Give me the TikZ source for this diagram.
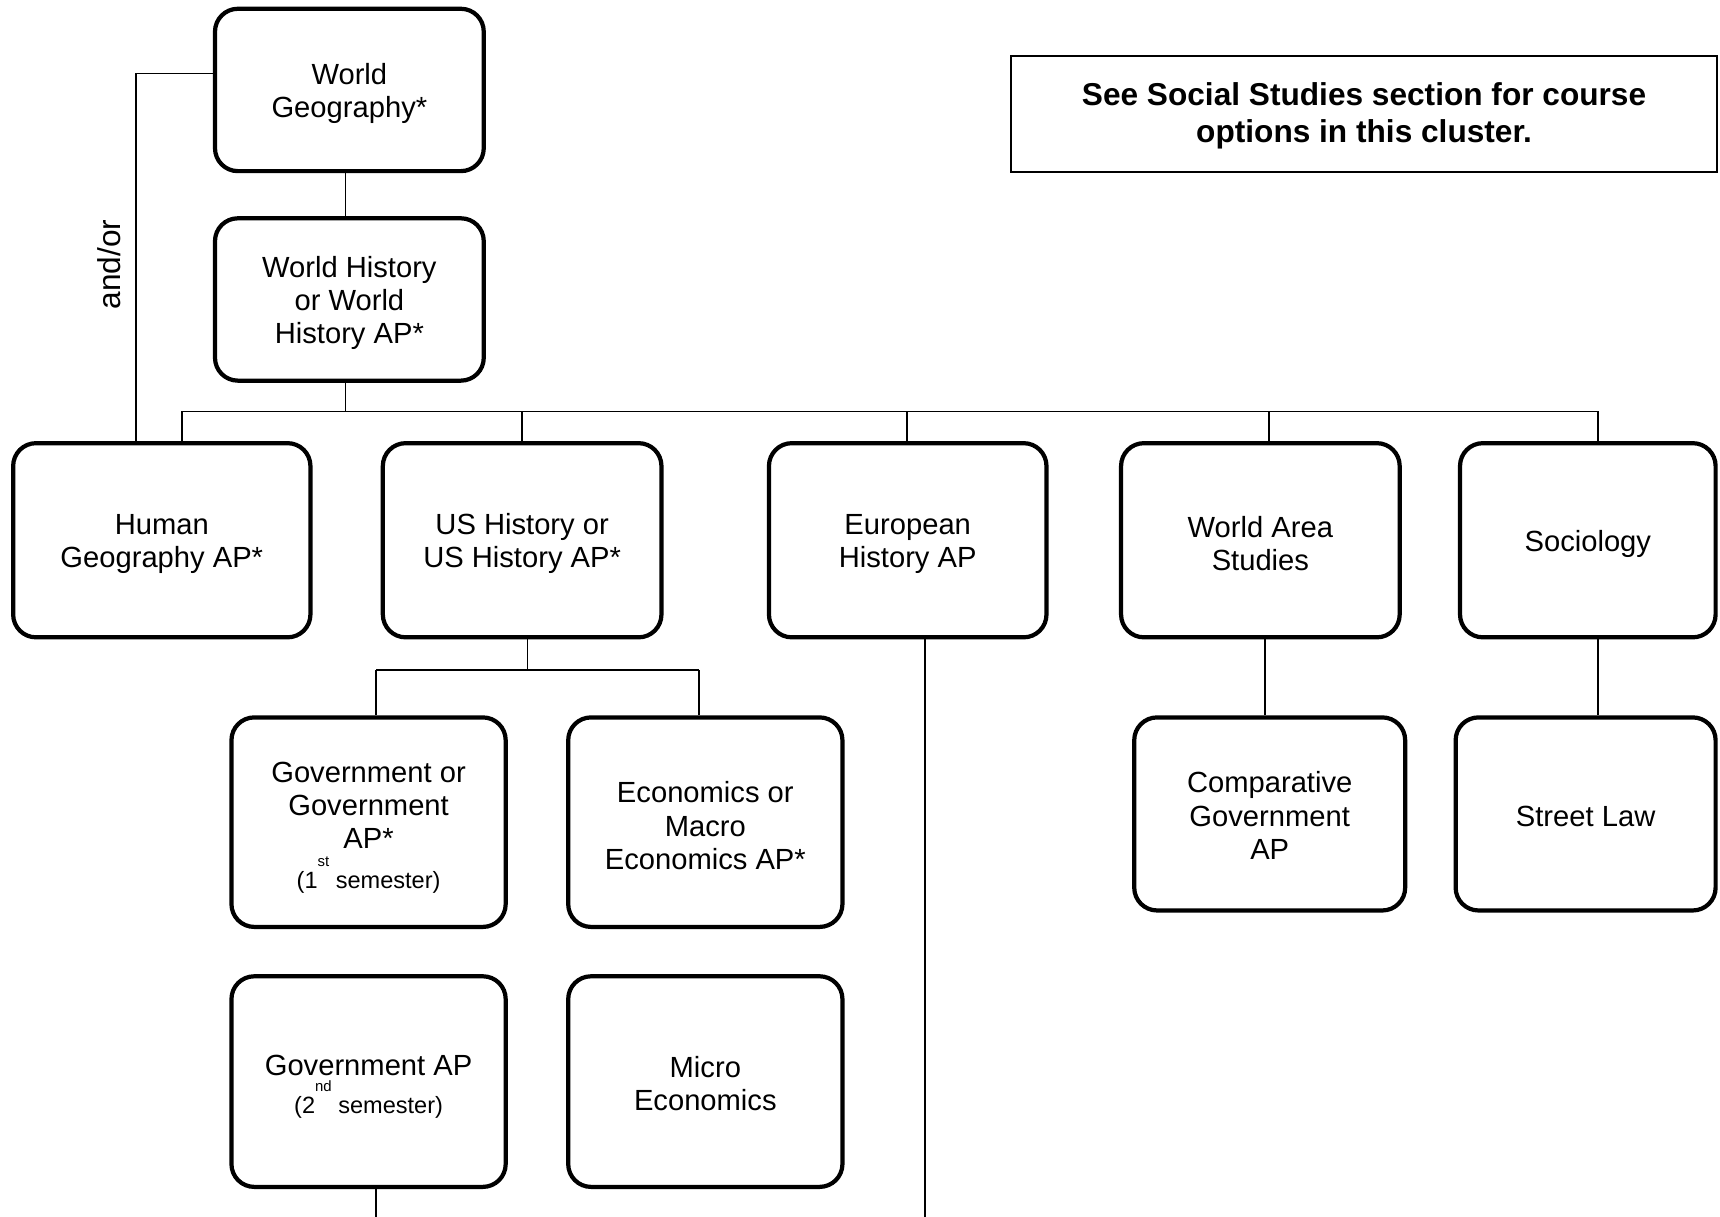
\documentclass[tikz,border=0pt]{standalone}
\usepackage{fontspec}
\setmainfont{Liberation Sans}
\newcommand{\ordsup}[1]{\raisebox{0.95em}{\fontsize{8.5}{8.5}\selectfont #1}}
\newcommand{\tstrut}[1]{\rule{0pt}{#1}}
\def\U{0.02194cm}
\begin{document}
\begin{tikzpicture}[x=0.02194cm, y=-0.02194cm,
  coursebox/.style={draw, line width=2.4pt, rounded corners=13pt, align=center,
    font=\fontsize{16.6}{19}\selectfont, inner sep=0pt},
  notebox/.style={draw, line width=1.2pt, align=center,
    font=\fontsize{18}{21}\selectfont\bfseries, inner sep=0pt},
  conn/.style={line width=0.9pt}]
\useasboundingbox (0,0) rectangle (1568,1109);

% boxes
\node[coursebox, minimum width=245*\U, minimum height=148*\U] (WG) at (318.5,82) {\tstrut{16pt}World\\Geography*};
\node[coursebox, minimum width=245*\U, minimum height=148*\U] (WH) at (318.5,273) {\tstrut{16pt}World History\\or World\\History AP*};

\node[coursebox, minimum width=271*\U, minimum height=177*\U] (HG) at (147.5,492.5) {\tstrut{16pt}Human\\Geography AP*};
\node[coursebox, minimum width=254*\U, minimum height=177*\U] (US) at (476,492.5) {\tstrut{16pt}US History or\\US History AP*};
\node[coursebox, minimum width=253*\U, minimum height=177*\U] (EH) at (827.5,492.5) {\tstrut{16pt}European\\History AP};
\node[coursebox, minimum width=254*\U, minimum height=177*\U] (WA) at (1149,492.5) {\tstrut{16pt}World Area\\Studies};
\node[coursebox, minimum width=233*\U, minimum height=177*\U] (SO) at (1447.5,492.5) {\tstrut{16pt}Sociology};

\node[coursebox, minimum width=250*\U, minimum height=191*\U] (GOV) at (336,749.5)
  {\tstrut{17.8pt}Government or\\Government\\AP*\\[3.5pt]{\fontsize{13.4}{16}\selectfont (1\ordsup{st} semester)}};
\node[coursebox, minimum width=250*\U, minimum height=191*\U] (ECO) at (643,749.5)
  {\tstrut{16pt}Economics or\\Macro\\Economics AP*};
\node[coursebox, minimum width=247*\U, minimum height=176*\U] (CG) at (1157.5,742)
  {\tstrut{14pt}Comparative\\Government\\AP};
\node[coursebox, minimum width=237*\U, minimum height=176*\U] (SL) at (1445.5,742) {\tstrut{14pt}Street Law};

\node[coursebox, minimum width=250*\U, minimum height=192*\U] (GAP) at (336,986)
  {\tstrut{17.8pt}Government AP\\[1.5pt]{\fontsize{13.4}{16}\selectfont (2\ordsup{nd} semester)}};
\node[coursebox, minimum width=250*\U, minimum height=192*\U] (MIC) at (643,986)
  {\tstrut{14pt}Micro\\Economics};

\node[notebox, minimum width=643*\U, minimum height=106*\U] (NOTE) at (1243.5,104)
  {\tstrut{15.5pt}See Social Studies section for course\\options in this cluster.};

\node[rotate=90, font=\fontsize{18}{21}\selectfont, inner sep=0pt] (andor) at (100,241) {and/or};

% connector points
\coordinate (tHG) at (166,375);
\coordinate (tWH) at (315,375);
\coordinate (tUS) at (476,375);
\coordinate (tEH) at (827,375);
\coordinate (tWA) at (1157,375);
\coordinate (tSO) at (1457,375);
\coordinate (ao) at (124,67);
\coordinate (usb) at (481,611);
\coordinate (g1) at (343,611);
\coordinate (g2) at (637,611);
\coordinate (ehEnd) at (843,1109);
\coordinate (wc) at (1153,620);
\coordinate (ss) at (1457,620);
\coordinate (gapEnd) at (343,1109);

% connectors
\draw[conn] (tWH |- WG.south) -- (tWH |- WH.north);
\draw[conn] (tWH |- WH.south) -- (tWH);
\draw[conn] (tHG) -- (tSO);
\draw[conn] (tHG) -- (tHG |- HG.north);
\draw[conn] (tUS) -- (tUS |- US.north);
\draw[conn] (tEH) -- (tEH |- EH.north);
\draw[conn] (tWA) -- (tWA |- WA.north);
\draw[conn] (tSO) -- (tSO |- SO.north);
\draw[conn] (WG.west |- ao) -- (ao) -- (ao |- HG.north);
\draw[conn] (usb |- US.south) -- (usb);
\draw[conn] (g1) -- (g2);
\draw[conn] (g1) -- (g1 |- GOV.north);
\draw[conn] (g2) -- (g2 |- ECO.north);
\draw[conn] (ehEnd |- EH.south) -- (ehEnd);
\draw[conn] (wc |- WA.south) -- (wc |- CG.north);
\draw[conn] (ss |- SO.south) -- (ss |- SL.north);
\draw[conn] (gapEnd |- GAP.south) -- (gapEnd);
\end{tikzpicture}
\end{document}
